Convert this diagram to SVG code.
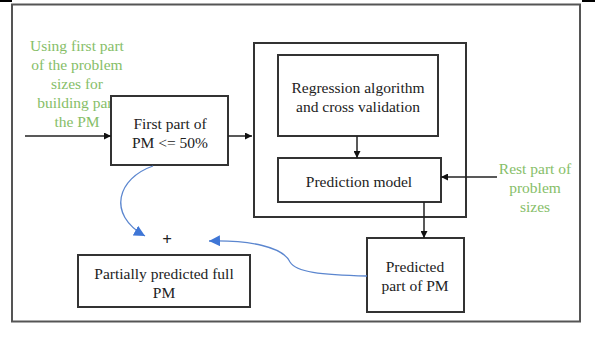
<svg xmlns="http://www.w3.org/2000/svg" width="595" height="359" viewBox="0 0 595 359">
<style>
.box{fill:#fff;stroke:#333;stroke-width:2}
text{font-family:'Liberation Serif','DejaVu Serif',serif;font-size:15.5px;text-anchor:middle}
.t{fill:#222}
.g{fill:#86BE68}
.ln{stroke:#222;stroke-width:1.5;fill:none}
.bl{stroke:#5B86CF;stroke-width:1.3;fill:none}
</style>
<defs>
<marker id="ah" viewBox="0 0 10 10" refX="10" refY="5" markerWidth="7" markerHeight="7" markerUnits="userSpaceOnUse" orient="auto">
<path d="M0,0 L10,5 L0,10 z" fill="#111"/>
</marker>
<marker id="bh" viewBox="0 0 10 10" refX="10" refY="5" markerWidth="11" markerHeight="11" markerUnits="userSpaceOnUse" orient="auto">
<path d="M0,0 L10,5 L0,10 z" fill="#3F76D6"/>
</marker>
</defs>
<rect width="595" height="359" fill="#fff"/>
<line x1="0" y1="1" x2="12" y2="1" stroke="#000" stroke-width="2"/>
<line x1="582" y1="1" x2="595" y2="1" stroke="#000" stroke-width="2"/>
<rect id="frame" x="12" y="4.5" width="568" height="317" fill="none" stroke="#555" stroke-width="2"/>

<g id="input-label" font-family="Liberation Serif, DejaVu Serif, serif">
<text class="g" x="77" y="51">Using first part</text>
<text class="g" x="77" y="70">of the problem</text>
<text class="g" x="77" y="89">sizes for</text>
<text class="g" x="77" y="108">building part</text>
<text class="g" x="77" y="127">the PM</text>
</g>

<g id="model-box">
<rect x="254" y="43" width="212" height="174" fill="#fff" stroke="#333" stroke-width="2"/>
</g>

<g id="first-part">
<rect class="box" x="111" y="96" width="117" height="69"/>
<text class="t" x="170" y="129">First part of</text>
<text class="t" x="170" y="148">PM &lt;= 50%</text>
</g>

<g id="regression">
<rect class="box" x="278" y="55" width="160" height="81"/>
<text class="t" x="358" y="93">Regression algorithm</text>
<text class="t" x="358" y="112">and cross validation</text>
</g>

<g id="prediction-model">
<rect class="box" x="278" y="158" width="163" height="44"/>
<text class="t" x="359" y="187">Prediction model</text>
</g>

<g id="rest-label">
<text class="g" x="535" y="174">Rest part of</text>
<text class="g" x="535" y="193">problem</text>
<text class="g" x="535" y="212">sizes</text>
</g>

<g id="predicted-part">
<rect class="box" x="367" y="238" width="97" height="74"/>
<text class="t" x="415" y="272">Predicted</text>
<text class="t" x="415" y="291">part of PM</text>
</g>

<g id="partial-full">
<rect class="box" x="78" y="255" width="172" height="52"/>
<text class="t" x="164" y="279">Partially predicted full</text>
<text class="t" x="164" y="298">PM</text>
</g>

<g id="plus">
<text class="t" x="167" y="245" style="font-size:17px;font-weight:bold">+</text>
</g>

<g id="connectors">
<line class="ln" x1="25" y1="136" x2="111" y2="136" marker-end="url(#ah)"/>
<line class="ln" x1="228" y1="136" x2="252" y2="136" marker-end="url(#ah)"/>
<line class="ln" x1="357" y1="136" x2="357" y2="158" marker-end="url(#ah)"/>
<line class="ln" x1="497" y1="177" x2="441" y2="177" marker-end="url(#ah)"/>
<line class="ln" x1="424" y1="202" x2="424" y2="238" marker-end="url(#ah)"/>
<path class="bl" d="M153,166 C118,178 106,214 145,236" marker-end="url(#bh)"/>
<path class="bl" d="M367,276 C320,275 296,272 290,262 C283,247 250,240 209,241" marker-end="url(#bh)"/>
</g>
</svg>
